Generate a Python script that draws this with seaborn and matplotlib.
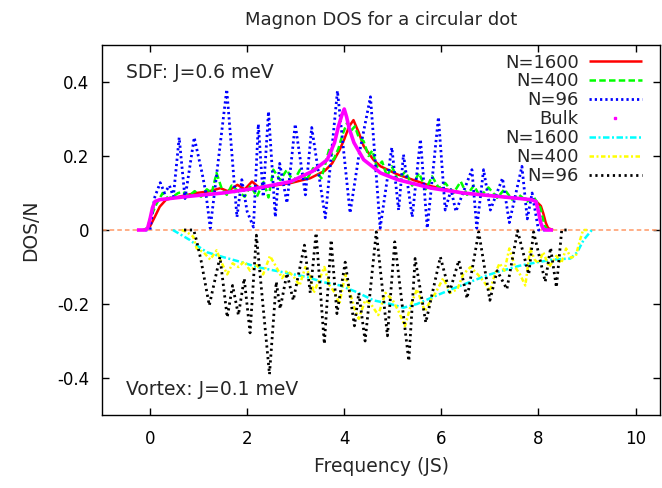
import numpy as np
import pandas as pd
import seaborn as sns
import matplotlib
matplotlib.use("Agg")
import matplotlib.pyplot as plt
from matplotlib.lines import Line2D
from matplotlib.ticker import FuncFormatter, FixedLocator

# ---------------- data ----------------
title = "Magnon DOS for a circular dot"
x_label = "Frequency (JS)"
y_label = "DOS/N"
sdf_note = "SDF: J=0.6 meV"
vortex_note = "Vortex: J=0.1 meV"
legend_labels = ["N=1600", "N=400", "N=96", "Bulk", "N=1600", "N=400", "N=96"]
x_ticks = [0, 2, 4, 6, 8, 10]
y_ticks = [-0.4, -0.2, 0.0, 0.2, 0.4]

# SDF, N=1600 (red)
sdf1600_x = [-0.1, 0.0, 0.1, 0.2, 0.33, 0.6, 0.95, 1.2, 1.45, 1.6, 1.8, 1.95, 2.1, 2.25, 2.9,
             3.3, 3.6, 3.75, 3.9, 4.0, 4.1, 4.19, 4.3, 4.4, 4.6, 4.75, 5.1, 5.8, 6.45, 7.15,
             7.85, 7.95, 8.05, 8.1, 8.15, 8.2, 8.3]
sdf1600_y = [0.0, 0.01, 0.036, 0.063, 0.082, 0.09, 0.1, 0.104, 0.113, 0.105, 0.122, 0.11, 0.131,
             0.114, 0.127, 0.14, 0.16, 0.18, 0.215, 0.245, 0.28, 0.297, 0.263, 0.227, 0.19,
             0.172, 0.15, 0.118, 0.1, 0.091, 0.082, 0.078, 0.065, 0.045, 0.02, 0.005, 0.0]

# SDF, N=400 (green)
sdf400_x = [-0.15, -0.05, 0.0, 0.13, 0.26, 0.37, 0.47, 0.58, 0.68, 0.8, 0.92, 1.05, 1.17, 1.27,
            1.37, 1.48, 1.58, 1.68, 1.79, 1.95, 2.07, 2.2, 2.34, 2.44, 2.54, 2.68, 2.82, 2.95,
            3.09, 3.22, 3.36, 3.53, 3.7, 3.78, 3.88, 3.97, 4.06, 4.15, 4.22, 4.3, 4.4, 4.5,
            4.58, 4.67, 4.78, 4.88, 4.98, 5.1, 5.26, 5.4, 5.54, 5.68, 5.81, 5.95, 6.08, 6.25,
            6.4, 6.53, 6.67, 6.8, 6.97, 7.15, 7.3, 7.46, 7.6, 7.77, 7.9, 8.04, 8.13, 8.2, 8.3]
sdf400_y = [0.0, 0.005, 0.03, 0.07, 0.1, 0.085, 0.09, 0.1, 0.103, 0.092, 0.105, 0.09, 0.11, 0.1,
            0.154, 0.11, 0.095, 0.12, 0.108, 0.09, 0.12, 0.09, 0.13, 0.088, 0.163, 0.135, 0.163,
            0.13, 0.163, 0.135, 0.167, 0.14, 0.223, 0.19, 0.22, 0.26, 0.29, 0.27, 0.28, 0.25,
            0.24, 0.2, 0.215, 0.17, 0.185, 0.145, 0.172, 0.136, 0.158, 0.12, 0.154, 0.11, 0.145,
            0.113, 0.127, 0.1, 0.131, 0.095, 0.12, 0.09, 0.115, 0.087, 0.11, 0.082, 0.095,
            0.077, 0.09, 0.06, 0.01, 0.0, 0.0]

# SDF, N=96 (blue)
sdf96_x = [-0.1, 0.0, 0.05, 0.1, 0.21, 0.3, 0.4, 0.48, 0.6, 0.72, 0.91, 1.07, 1.15, 1.24, 1.58,
           1.79, 1.89, 2.0, 2.13, 2.23, 2.33, 2.44, 2.58, 2.67, 2.82, 2.99, 3.2, 3.33, 3.61,
           3.86, 4.12, 4.3, 4.54, 4.74, 4.98, 5.12, 5.22, 5.4, 5.57, 5.71, 5.94, 6.08, 6.2,
           6.3, 6.63, 6.73, 6.87, 7.01, 7.26, 7.4, 7.66, 7.77, 7.87, 8.0, 8.2]
sdf96_y = [0.0, 0.0, 0.05, 0.09, 0.128, 0.1, 0.12, 0.09, 0.25, 0.085, 0.25, 0.155, 0.1, 0.005,
           0.38, 0.035, 0.136, 0.05, 0.008, 0.286, 0.09, 0.32, 0.035, 0.18, 0.073, 0.286, 0.095,
           0.277, 0.033, 0.376, 0.046, 0.2, 0.36, 0.005, 0.223, 0.054, 0.204, 0.035, 0.245,
           0.005, 0.305, 0.054, 0.109, 0.05, 0.163, 0.005, 0.163, 0.054, 0.14, 0.02, 0.172,
           0.03, 0.1, 0.0, 0.0]

# Bulk (magenta)
bulk_x = [-0.27, -0.1, -0.05, 0.0, 0.05, 0.1, 0.2, 0.8, 1.5, 2.2, 2.9, 3.35, 3.65, 3.8, 3.88,
          3.95, 4.0, 4.05, 4.1, 4.2, 4.4, 4.75, 5.1, 5.8, 6.45, 7.15, 7.85, 7.95, 8.0, 8.05,
          8.1, 8.15, 8.3]
bulk_y = [0.0, 0.0, 0.005, 0.03, 0.06, 0.077, 0.082, 0.091, 0.1, 0.113, 0.131, 0.159, 0.19,
          0.236, 0.28, 0.31, 0.327, 0.305, 0.275, 0.236, 0.19, 0.154, 0.136, 0.113, 0.1, 0.091,
          0.082, 0.077, 0.05, 0.018, 0.003, 0.0, 0.0]

# Vortex, N=1600 (cyan)
vort1600_x = [0.47, 0.6, 0.82, 1.0, 1.17, 1.5, 1.86, 2.2, 2.54, 2.89, 3.23, 3.57, 3.92, 4.26,
              4.6, 4.95, 5.22, 5.5, 5.9, 6.25, 6.6, 6.95, 7.28, 7.6, 7.98, 8.3, 8.66, 8.8,
              8.93, 9.05, 9.1]
vort1600_y = [0.0, -0.01, -0.027, -0.045, -0.06, -0.073, -0.086, -0.1, -0.109, -0.118, -0.127,
              -0.141, -0.15, -0.168, -0.19, -0.2, -0.21, -0.2, -0.177, -0.158, -0.14, -0.122,
              -0.109, -0.097, -0.087, -0.08, -0.077, -0.06, -0.027, -0.008, 0.0]

# Vortex, N=400 (yellow)
vort400_x = [0.65, 0.75, 0.89, 0.96, 1.1, 1.24, 1.37, 1.48, 1.59, 1.7, 1.82, 1.94, 2.06, 2.2,
             2.33, 2.47, 2.6, 2.72, 2.82, 2.95, 3.08, 3.2, 3.3, 3.37, 3.5, 3.59, 3.7, 3.81,
             3.9, 4.02, 4.12, 4.23, 4.3, 4.43, 4.55, 4.7, 4.85, 5.0, 5.12, 5.25, 5.38, 5.5,
             5.66, 5.78, 5.88, 6.04, 6.18, 6.33, 6.45, 6.6, 6.75, 6.88, 7.0, 7.1, 7.2, 7.3,
             7.4, 7.52, 7.62, 7.73, 7.83, 7.92, 8.0, 8.1, 8.22, 8.37, 8.47, 8.57, 8.67, 8.77,
             8.85, 8.92, 9.0]
vort400_y = [0.0, -0.005, -0.018, -0.05, -0.06, -0.08, -0.055, -0.09, -0.12, -0.09, -0.1,
             -0.085, -0.11, -0.095, -0.12, -0.07, -0.1, -0.13, -0.11, -0.124, -0.15, -0.1,
             -0.125, -0.17, -0.13, -0.1, -0.15, -0.17, -0.2, -0.12, -0.17, -0.22, -0.24,
             -0.19, -0.2, -0.23, -0.17, -0.19, -0.22, -0.26, -0.2, -0.16, -0.22, -0.19, -0.17,
             -0.13, -0.17, -0.16, -0.12, -0.1, -0.12, -0.14, -0.165, -0.12, -0.09, -0.11,
             -0.05, -0.1, -0.12, -0.15, -0.05, -0.08, -0.09, -0.06, -0.1, -0.07, -0.09, -0.05,
             -0.075, -0.07, -0.03, 0.0, 0.0]

# Vortex, N=96 (black)
vort96_x = [0.7, 0.9, 0.96, 1.05, 1.22, 1.44, 1.59, 1.7, 1.82, 1.94, 2.06, 2.19, 2.46, 2.6,
            2.68, 2.82, 2.95, 3.18, 3.3, 3.42, 3.59, 3.73, 3.85, 4.02, 4.21, 4.3, 4.43, 4.66,
            4.89, 5.04, 5.33, 5.46, 5.68, 5.98, 6.17, 6.36, 6.53, 6.77, 7.0, 7.15, 7.35, 7.57,
            7.8, 7.9, 8.14, 8.25, 8.37, 8.48, 8.6]
vort96_y = [0.0, 0.0, -0.03, -0.082, -0.204, -0.073, -0.236, -0.15, -0.23, -0.131, -0.278,
            -0.014, -0.39, -0.14, -0.213, -0.117, -0.19, -0.041, -0.17, -0.008, -0.308, -0.027,
            -0.226, -0.087, -0.259, -0.17, -0.3, -0.005, -0.286, -0.032, -0.354, -0.077, -0.25,
            -0.073, -0.168, -0.082, -0.185, -0.005, -0.19, -0.11, -0.16, -0.002, -0.12, -0.005,
            -0.14, -0.048, -0.155, 0.0, 0.0]

x_range = [-1.0, 10.5]
y_range = [-0.5, 0.5]

# ---------------- figure ----------------
sns.set_style("ticks")
plt.rcParams["font.family"] = ["DejaVu Sans"]

fig = plt.figure(figsize=(6.62, 4.88), dpi=100)
W, H = 662.0, 488.0
ax = fig.add_axes([101.5 / W, (H - 415) / H, (659.8 - 101.5) / W, 370 / H])

# zero axis
ax.axhline(0, color="#ff9966", lw=1.1, linestyle=(0, (3, 2)), zorder=1)

series = [
    (sdf1600_x, sdf1600_y, "#ff0000", 1.8, None),
    (sdf400_x, sdf400_y, "#00ff00", 1.8, (0, (2.6, 1.3))),
    (sdf96_x, sdf96_y, "#0000ff", 2.0, (0, (0.8, 1.1))),
    (bulk_x, bulk_y, "#ff00ff", 2.6, None),
    (vort1600_x, vort1600_y, "#00ffff", 1.8, (0, (2.6, 1.0, 0.8, 1.0))),
    (vort400_x, vort400_y, "#ffff00", 1.8, (0, (1.8, 1.0, 0.8, 1.0))),
    (vort96_x, vort96_y, "#000000", 2.0, (0, (0.8, 1.3))),
]

handles = []
for (xs, ys, col, lw, ls) in series:
    df = pd.DataFrame({"x": xs, "y": ys})
    sns.lineplot(data=df, x="x", y="y", ax=ax, color=col, lw=lw, errorbar=None,
                 estimator=None, sort=False)
    ln = ax.get_lines()[-1]
    if ls is not None:
        ln.set_linestyle(ls)
    ln.set_solid_capstyle("butt")
    ln.set_dash_capstyle("butt")
    handles.append(ln)

# bulk legend handle: single small point
bulk_handle = Line2D([], [], color="#ff00ff", marker="s", markersize=1.6, linestyle="none")
leg_handles = [handles[0], handles[1], handles[2], bulk_handle, handles[4], handles[5], handles[6]]
leg = ax.legend(leg_handles, legend_labels, loc="upper right", bbox_to_anchor=(0.968, 0.977),
                frameon=False, markerfirst=False, fontsize=13, handlelength=2.95,
                handletextpad=0.55, labelspacing=0.05, borderpad=0, borderaxespad=0)

ax.set_xlim(*x_range)
ax.set_ylim(*y_range)
ax.xaxis.set_major_locator(FixedLocator(x_ticks))
ax.yaxis.set_major_locator(FixedLocator(y_ticks))
ax.yaxis.set_major_formatter(FuncFormatter(lambda v, p: "0" if abs(v) < 1e-9 else f"{v:g}"))
ax.xaxis.set_major_formatter(FuncFormatter(lambda v, p: f"{v:g}"))
ax.tick_params(direction="in", length=5, width=1, top=True, right=True,
               labelsize=12, colors="black")
ax.tick_params(axis="x", pad=11)
ax.tick_params(axis="y", pad=9)
for s in ax.spines.values():
    s.set_linewidth(1.0)
    s.set_color("black")
    s.set_visible(True)

ax.set_xlabel(x_label, fontsize=13.5)
ax.set_ylabel(y_label, fontsize=13.5)
ax.xaxis.set_label_coords((382 - 101.5) / 558.3, (415 - 466) / 370)
ax.xaxis.label.set_va("center")
ax.yaxis.set_label_coords((31 - 101.5) / 558.3, 0.5)
ax.yaxis.label.set_va("center")
ax.set_title(title, fontsize=13, y=(415 - 20) / 370, va="center", pad=0)

ax.text((126 - 101.5) / 558.3, (415 - 78) / 370, sdf_note, transform=ax.transAxes,
        fontsize=13.5, ha="left", va="baseline")
ax.text((126 - 101.5) / 558.3, (415 - 395) / 370, vortex_note, transform=ax.transAxes,
        fontsize=13.5, ha="left", va="baseline")

fig.savefig("out.png", dpi=100)
